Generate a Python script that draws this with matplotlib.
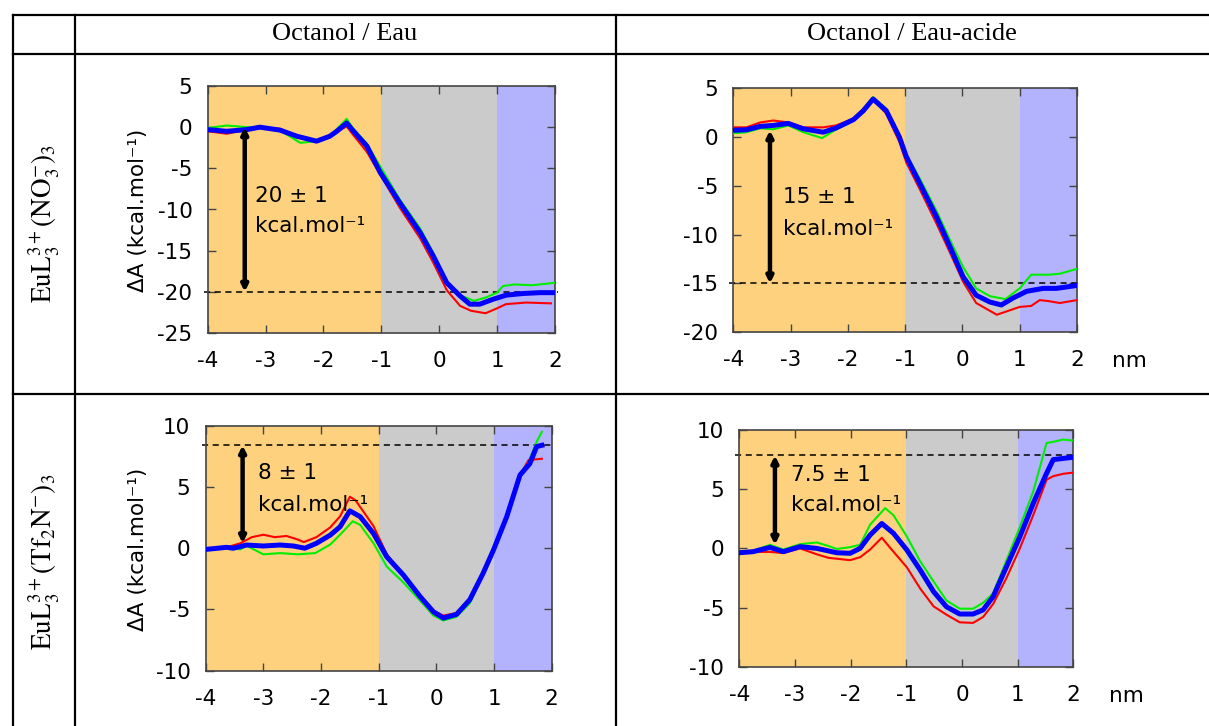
import matplotlib.pyplot as plt
from matplotlib.lines import Line2D

plt.rcParams["axes.unicode_minus"] = False

# column / row headers
col_titles = ["Octanol / Eau", "Octanol / Eau-acide"]
row_titles = [r"$\mathrm{EuL_3^{3+}(NO_3^{-})_3}$",
              r"$\mathrm{EuL_3^{3+}(Tf_2N^{-})_3}$"]

# --- EuL3(NO3)3, octanol / water ---
x_nw_blue = [-4, -3.67, -3.33, -3.1, -2.75, -2.46, -2.12, -1.89, -1.77, -1.6, -1.48, -1.25,
             -1.02, -0.68, -0.33, -0.1, 0.13, 0.36, 0.53, 0.7, 0.93, 1.16, 1.45, 1.74, 2.0]
y_nw_blue = [-0.3, -0.5, -0.3, 0, -0.36, -1.1, -1.7, -1.1, -0.5, 0.5, -0.5, -2.3,
             -5.5, -9.2, -12.8, -15.7, -18.9, -20.5, -21.5, -21.5, -20.9, -20.4, -20.2, -20.1, -20.1]
x_nw_green = [-4, -3.67, -3.33, -3.1, -2.75, -2.4, -2.12, -1.89, -1.6, -1.48, -1.25, -1.0,
              -0.68, -0.33, -0.1, 0.13, 0.36, 0.6, 0.8, 1.0, 1.1, 1.3, 1.6, 2.0]
y_nw_green = [-0.1, 0.2, 0, 0, -0.4, -1.9, -1.7, -1.1, 1.0, -0.2, -2.0, -5.0,
              -8.8, -12.3, -15.3, -18.7, -20.4, -21.1, -20.7, -20.1, -19.3, -19.1, -19.2, -18.9]
x_nw_red = [-4, -3.67, -3.33, -3.1, -2.75, -2.4, -2.12, -1.89, -1.6, -1.48, -1.25, -1.0,
            -0.68, -0.33, -0.1, 0.13, 0.36, 0.55, 0.8, 1.0, 1.15, 1.5, 1.93]
y_nw_red = [-0.5, -0.8, -0.3, 0, -0.2, -1.3, -1.7, -1.1, 0.1, -1.0, -3.0, -6.0,
            -9.8, -13.5, -16.5, -19.8, -21.7, -22.3, -22.6, -22.0, -21.5, -21.3, -21.4]

# --- EuL3(NO3)3, octanol / acidic water ---
x_na_blue = [-4, -3.77, -3.53, -3.3, -3.04, -2.78, -2.43, -2.2, -1.9, -1.73, -1.56, -1.33,
             -1.1, -0.98, -0.74, -0.45, -0.22, 0.01, 0.24, 0.48, 0.68, 0.88, 1.12, 1.41, 1.64, 2.0]
y_na_blue = [0.7, 0.75, 1.1, 1.2, 1.4, 0.85, 0.5, 0.95, 1.8, 2.7, 3.9, 2.7,
             0, -2.0, -4.8, -8.2, -11.2, -14.3, -16.2, -16.9, -17.2, -16.5, -15.8, -15.5, -15.5, -15.2]
x_na_green = [-4, -3.77, -3.53, -3.3, -3.04, -2.78, -2.45, -2.2, -1.9, -1.56, -1.33, -1.1,
              -0.98, -0.74, -0.45, -0.22, 0.01, 0.24, 0.48, 0.75, 1.0, 1.2, 1.5, 1.7, 2.0]
y_na_green = [0.4, 0.5, 0.9, 0.8, 1.2, 0.5, -0.1, 0.8, 1.7, 4.1, 2.9, 0.2,
              -1.8, -4.3, -7.6, -10.5, -13.3, -15.5, -16.3, -16.6, -15.5, -14.1, -14.1, -14.0, -13.5]
x_na_red = [-4, -3.77, -3.53, -3.3, -3.04, -2.78, -2.43, -2.2, -1.9, -1.56, -1.33, -1.1,
            -0.98, -0.74, -0.45, -0.22, 0.01, 0.24, 0.48, 0.6, 0.85, 1.0, 1.2, 1.35, 1.5, 1.7, 2.0]
y_na_red = [1.0, 1.0, 1.5, 1.7, 1.5, 1.0, 1.0, 1.2, 1.9, 3.9, 2.4, -0.5,
            -2.6, -5.4, -8.9, -11.8, -14.8, -17.0, -17.8, -18.2, -17.7, -17.4, -17.3, -16.7, -16.8, -17.0, -16.7]

# --- EuL3(Tf2N)3, octanol / water ---
x_tw_blue = [-4, -3.64, -3.52, -3.29, -3.0, -2.71, -2.48, -2.28, -2.08, -1.84, -1.67, -1.5,
             -1.32, -1.09, -0.86, -0.57, -0.28, -0.05, 0.12, 0.35, 0.58, 0.81, 0.99, 1.22,
             1.45, 1.62, 1.74, 1.83]
y_tw_blue = [-0.1, 0.07, 0, 0.26, 0.18, 0.26, 0.18, 0, 0.4, 1.07, 1.75, 3.05,
             2.57, 1.2, -0.7, -2.2, -3.96, -5.2, -5.7, -5.4, -4.2, -2.05, -0.15, 2.57,
             5.97, 6.9, 8.3, 8.4]
x_tw_green = [-4, -3.64, -3.4, -3.29, -3.0, -2.71, -2.4, -2.1, -1.84, -1.67, -1.45, -1.32,
              -1.09, -0.86, -0.57, -0.28, -0.05, 0.12, 0.35, 0.58, 0.81, 0.99, 1.22, 1.45,
              1.62, 1.74, 1.83]
y_tw_green = [-0.1, 0.07, -0.1, 0.2, -0.5, -0.4, -0.5, -0.4, 0.3, 1.1, 2.2, 1.9,
              0.4, -1.5, -2.8, -4.3, -5.5, -5.9, -5.6, -4.5, -2.1, -0.15, 2.57, 6.0,
              7.3, 8.7, 9.5]
x_tw_red = [-4, -3.64, -3.4, -3.2, -3.0, -2.8, -2.6, -2.4, -2.3, -2.08, -1.84, -1.67,
            -1.5, -1.4, -1.09, -0.86, -0.57, -0.28, -0.05, 0.12, 0.35, 0.58, 0.81, 0.99,
            1.22, 1.45, 1.6, 1.83]
y_tw_red = [-0.1, 0.07, 0.4, 0.9, 1.1, 0.9, 1.0, 0.7, 0.5, 0.9, 1.7, 2.6,
            4.2, 3.9, 1.8, -0.5, -2.3, -3.9, -5.1, -5.5, -5.3, -4.2, -2.05, -0.15,
            2.57, 5.97, 7.2, 7.3]

# --- EuL3(Tf2N)3, octanol / acidic water ---
x_ta_blue = [-4, -3.75, -3.45, -3.21, -2.91, -2.61, -2.25, -2.01, -1.83, -1.65, -1.44, -1.23,
             -0.99, -0.75, -0.51, -0.28, -0.04, 0.2, 0.38, 0.56, 0.8, 1.04, 1.28, 1.52,
             1.64, 1.82, 2.0]
y_ta_blue = [-0.37, -0.28, 0.08, -0.28, 0.14, 0, -0.37, -0.42, 0, 1.13, 2.1, 1.27,
             -0.14, -1.83, -3.66, -4.93, -5.55, -5.55, -5.2, -4.08, -1.55, 0.99, 3.8, 6.34,
             7.5, 7.6, 7.7]
x_ta_green = [-4, -3.75, -3.45, -3.21, -2.91, -2.61, -2.4, -2.25, -2.01, -1.83, -1.65, -1.38,
              -1.23, -0.99, -0.75, -0.51, -0.28, -0.04, 0.2, 0.38, 0.56, 0.8, 1.04, 1.28,
              1.52, 1.64, 1.82, 2.0]
y_ta_green = [-0.37, -0.2, 0.3, -0.1, 0.35, 0.5, 0.2, -0.05, 0.1, 0.3, 2.0, 3.4,
              2.8, 1.0, -1.1, -2.8, -4.4, -5.1, -5.1, -4.6, -3.8, -1.0, 1.8, 4.8,
              8.9, 9.0, 9.2, 9.1]
x_ta_red = [-4, -3.75, -3.45, -3.21, -2.91, -2.61, -2.4, -2.01, -1.83, -1.65, -1.44, -1.3,
            -1.1, -0.99, -0.75, -0.51, -0.28, -0.04, 0.2, 0.38, 0.56, 0.8, 1.04, 1.28,
            1.52, 1.64, 1.82, 2.0]
y_ta_red = [-0.37, -0.3, -0.3, -0.4, 0.0, -0.5, -0.8, -1.0, -0.75, -0.1, 0.9, 0.1,
            -1.0, -1.6, -3.4, -4.9, -5.6, -6.25, -6.3, -5.8, -4.7, -2.5, 0.0, 2.8,
            5.8, 6.1, 6.3, 6.4]

# barrier values (dashed level, arrow ends, label)
levels = [-20, -15, 8.4, 7.85]
arrow_top = [0, 0.7, 0.4, 0.3]
barrier_labels = ["20 ± 1", "15 ± 1", "8 ± 1", "7.5 ± 1"]
label_x = [-3.18, -3.13, -3.09, -3.08]
label_y = [-8.4, -6.1, 6.1, 6.2]
unit_y = [-12.0, -9.4, 3.5, 3.66]
ylims = [(-25, 5), (-20, 5), (-10, 10), (-10, 10)]

panels = [
    (x_nw_blue, y_nw_blue, x_nw_green, y_nw_green, x_nw_red, y_nw_red),
    (x_na_blue, y_na_blue, x_na_green, y_na_green, x_na_red, y_na_red),
    (x_tw_blue, y_tw_blue, x_tw_green, y_tw_green, x_tw_red, y_tw_red),
    (x_ta_blue, y_ta_blue, x_ta_green, y_ta_green, x_ta_red, y_ta_red),
]

W, H = 1209, 726
FS = 15.5
fig = plt.figure(figsize=(W / 100, H / 100), dpi=100)

# axes boxes in pixels: left, top, right, bottom
boxes = [(207.7, 86, 555, 333), (733.3, 88.3, 1077, 332.3),
         (205.7, 425.7, 551.7, 670.7), (739.3, 430, 1073.3, 666.7)]

for i, (box, data) in enumerate(zip(boxes, panels)):
    l, t, r, b = box
    ax = fig.add_axes([l / W, 1 - b / H, (r - l) / W, (b - t) / H])
    xb, yb, xg, yg, xr, yr = data
    ax.axvspan(-4, -1, color="#fed17f", lw=0, zorder=0)
    ax.axvspan(-1, 1, color="#cbcbcb", lw=0, zorder=0)
    ax.axvspan(1, 2, color="#b2b2fd", lw=0, zorder=0)
    ax.axhline(levels[i], xmin=-0.012, xmax=1.008, color="black", ls=(0, (4, 3)),
               lw=1.1, clip_on=False, zorder=2)
    ax.plot(xg, yg, color="#00ee00", lw=1.5, zorder=3)
    ax.plot(xr, yr, color="#ff0000", lw=1.5, zorder=3)
    ax.plot(xb, yb, color="#0000ff", lw=3.6, zorder=4)
    ax.annotate("", xy=(-3.36, levels[i]), xytext=(-3.36, arrow_top[i]),
                arrowprops=dict(arrowstyle="<|-|>", color="black", lw=3.2,
                                mutation_scale=9, shrinkA=0, shrinkB=0), zorder=5)
    ax.text(label_x[i], label_y[i], barrier_labels[i], fontsize=FS, va="center", zorder=6)
    ax.text(label_x[i], unit_y[i], "kcal.mol⁻¹", fontsize=FS, va="center", zorder=6)
    y0, y1 = ylims[i]
    ax.set_xlim(-4, 2)
    ax.set_ylim(y0, y1)
    ax.set_xticks(range(-4, 3))
    ax.set_yticks(range(y0, y1 + 1, 5))
    ax.tick_params(direction="in", top=True, right=True, length=6, width=1,
                   color="#444444", labelsize=FS)
    ax.tick_params(axis="x", pad=13)
    ax.tick_params(axis="y", pad=11)
    for sp in ax.spines.values():
        sp.set_color("#444444")
        sp.set_linewidth(1.2)
    if i % 2 == 1:
        ax.annotate("nm", xy=(1, 0), xycoords="axes fraction", xytext=(38, -21),
                    textcoords="offset points", fontsize=FS, ha="center", va="center")
    else:
        fig.text(138 / W, 1 - ((t + b) / 2 + 1) / H, "ΔA (kcal.mol⁻¹)", fontsize=FS,
                 rotation=90, ha="center", va="center")

# table grid
def hline(y, x0, x1):
    fig.add_artist(Line2D([x0 / W, x1 / W], [1 - y / H, 1 - y / H], color="black", lw=1.6))

def vline(x, y0, y1):
    fig.add_artist(Line2D([x / W, x / W], [1 - y0 / H, 1 - y1 / H], color="black", lw=1.6))

hline(15, 12.7, W)
hline(53.7, 12.7, W)
hline(393.7, 12.7, W)
vline(12.7, 15, H)
vline(75, 15, H)
vline(615.7, 15, H)

fig.text(345 / W, 1 - 34 / H, col_titles[0], family="Liberation Serif", fontsize=19,
         ha="center", va="center")
fig.text(912 / W, 1 - 34 / H, col_titles[1], family="Liberation Serif", fontsize=19,
         ha="center", va="center")
fig.text(44 / W, 1 - 223 / H, row_titles[0], fontsize=19.5, math_fontfamily="stix",
         rotation=90, ha="center", va="center")
fig.text(44 / W, 1 - 562 / H, row_titles[1], fontsize=19.5, math_fontfamily="stix",
         rotation=90, ha="center", va="center")

fig.savefig("out.png", dpi=100)
